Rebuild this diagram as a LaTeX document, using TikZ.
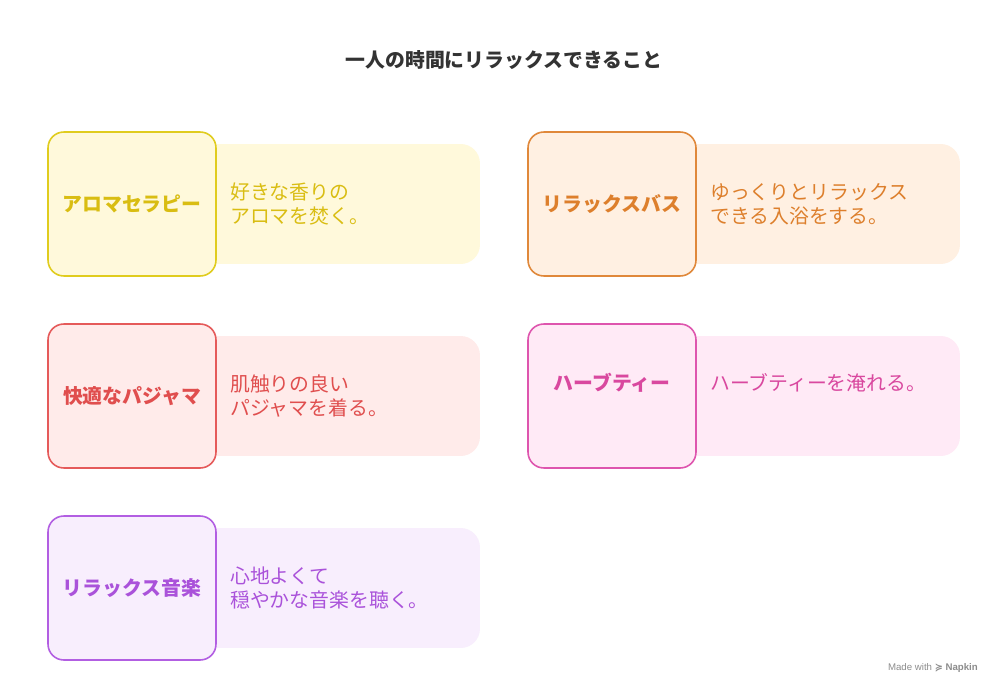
\documentclass[tikz,border=0pt]{standalone}
\usepackage{fontspec}
\setmainfont{Noto Sans CJK JP}
\newfontfamily\latinfont{Liberation Sans}
\newfontfamily\symfont{DejaVu Sans}
\usepackage{tikz}
\usetikzlibrary{positioning}

\definecolor{yelB}{HTML}{E0CC1E}\definecolor{yelF}{HTML}{FFF9DB}\definecolor{yelT}{HTML}{D9BD12}
\definecolor{oraB}{HTML}{E0883A}\definecolor{oraF}{HTML}{FFF0E2}\definecolor{oraT}{HTML}{DD7F2C}
\definecolor{redB}{HTML}{E55A5A}\definecolor{redF}{HTML}{FFEBEA}\definecolor{redT}{HTML}{E04E4E}
\definecolor{pnkB}{HTML}{DE55AE}\definecolor{pnkF}{HTML}{FFEAF6}\definecolor{pnkT}{HTML}{D9489F}
\definecolor{purB}{HTML}{B25EE2}\definecolor{purF}{HTML}{F8EEFD}\definecolor{purT}{HTML}{AA52DA}

\tikzset{
  keybox/.style={draw=#1B, fill=#1F, line width=0.9pt, rounded corners=9pt,
    minimum width=3.36cm, minimum height=2.88cm, text=#1T, font=\bfseries\fontsize{11.3}{13}\selectfont},
  panel/.style={fill=#1F, rounded corners=11pt, minimum width=5.6cm, minimum height=2.4cm},
  desc/.style={text=#1T, align=left, anchor=west, font=\fontsize{11.3}{13.6}\selectfont}
}

\begin{document}
\begin{tikzpicture}[x=0.02cm, y=-0.02cm]
  \useasboundingbox[fill=white] (0,0) rectangle (1008,696);
  \node[font=\bfseries\fontsize{11.3}{13}\selectfont, text=black!80] (title) at (504,60) {一人の時間にリラックスできること};

  % left column
  \node[panel=yel] (p1) at (340,204) {};
  \node[keybox=yel] (k1) at (132,204) {アロマセラピー};
  \node[desc=yel] (d1) at (224,204) {好きな香りの\\アロマを焚く。};

  \node[panel=red] (p3) at (340,396) {};
  \node[keybox=red] (k3) at (132,396) {快適なパジャマ};
  \node[desc=red] (d3) at (224,396) {肌触りの良い\\パジャマを着る。};

  \node[panel=pur] (p5) at (340,588) {};
  \node[keybox=pur] (k5) at (132,588) {リラックス音楽};
  \node[desc=pur] (d5) at (224,588) {心地よくて\\穏やかな音楽を聴く。};

  % right column
  \node[panel=ora] (p2) at (820,204) {};
  \node[keybox=ora] (k2) at (612,204) {リラックスバス};
  \node[desc=ora] (d2) at (704,204) {ゆっくりとリラックス\\できる入浴をする。};

  \node[panel=pnk] (p4) at (820,396) {};
  \node[keybox=pnk] (k4) at (612,396) {};
  \node[text=pnkT, font=\bfseries\fontsize{11.3}{13}\selectfont] (l4) at (612,383) {ハーブティー};
  \node[desc=pnk] (d4) at (704,383) {ハーブティーを淹れる。};

  \node[text=black!45, font=\latinfont\fontsize{5.5}{7}\selectfont, anchor=east] (mark) at (984,668) {Made with \textbf{{\symfont ≽} Napkin}};
\end{tikzpicture}
\end{document}
